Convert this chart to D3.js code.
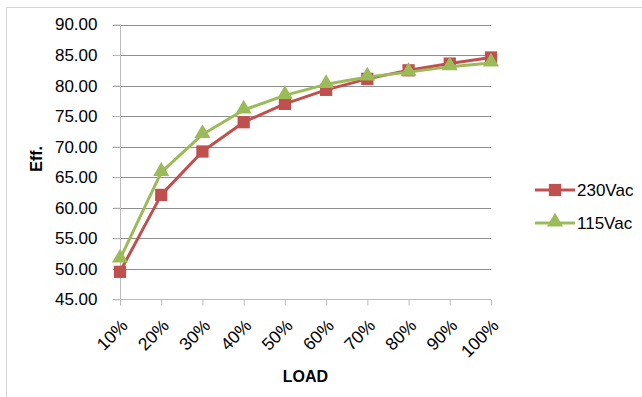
<!DOCTYPE html>
<html>
<head>
<meta charset="utf-8">
<script src="https://cdn.jsdelivr.net/npm/d3@7"></script>
<style>
  html, body { margin: 0; padding: 0; background: #fff; }
  svg { display: block; font-family: "Liberation Sans", Arial, sans-serif; }
</style>
</head>
<body>
<svg id="chart" width="642" height="397"></svg>
<script>
const categories = ["10%", "20%", "30%", "40%", "50%", "60%", "70%", "80%", "90%", "100%"];
const vac230 = [49.5, 62.1, 69.2, 74.0, 77.0, 79.3, 81.1, 82.5, 83.6, 84.6];
const vac115 = [51.6, 65.8, 72.0, 76.0, 78.4, 80.2, 81.4, 82.2, 83.1, 83.7];
const yTicks = [45, 50, 55, 60, 65, 70, 75, 80, 85, 90];
const seriesNames = ["230Vac", "115Vac"];
const seriesColors = ["#C0504D", "#9BBB59"];

const svg = d3.select("#chart");

// chart frame
svg.append("path")
  .attr("d", "M6.5,397 L6.5,7.5 L642,7.5")
  .attr("fill", "none").attr("stroke", "#d4d4d4").attr("stroke-width", 1);

const x = d3.scalePoint().domain(categories).range([120, 491]);
const y = d3.scaleLinear().domain([45, 90]).range([299.3, 24.5]);

// gridlines
svg.append("g").selectAll("line").data(yTicks.filter(d => d > 45)).join("line")
  .attr("x1", 113).attr("x2", 491)
  .attr("y1", d => Math.round(y(d)) + 0.5).attr("y2", d => Math.round(y(d)) + 0.5)
  .attr("stroke", "#8e8e8e").attr("stroke-width", 1);

// y axis
const yAxis = svg.append("g").attr("transform", "translate(120.5,0)")
  .call(d3.axisLeft(y).tickValues(yTicks).tickSize(7).tickPadding(16).tickFormat(d3.format(".2f")));
yAxis.select(".domain").attr("stroke", "#bcbcbc").attr("d", `M0,${y(90)}V${y(45)}`);
yAxis.selectAll(".tick line").attr("stroke", "#bcbcbc");
yAxis.selectAll(".tick text").attr("font-size", 17).attr("fill", "#000")
  .attr("font-family", "Liberation Sans, Arial, sans-serif");

// x axis
const xAxis = svg.append("g").attr("transform", `translate(0,${Math.round(y(45)) + 0.5})`)
  .call(d3.axisBottom(x).tickSize(6).tickFormat(""));
xAxis.select(".domain").attr("stroke", "#bcbcbc").attr("d", `M113,0H491`);
xAxis.selectAll(".tick line").attr("stroke", "#bcbcbc");
xAxis.selectAll(".tick").append("text")
  .text(d => d)
  .attr("text-anchor", "end")
  .attr("font-size", 17.5)
  .attr("fill", "#000")
  .attr("font-family", "Liberation Sans, Arial, sans-serif")
  .attr("transform", "translate(4,23) rotate(-45)")
  .attr("dy", "0.35em");

// axis titles
svg.append("text").text("LOAD")
  .attr("x", (x(categories[0]) + x(categories[categories.length - 1])) / 2)
  .attr("y", 382).attr("text-anchor", "middle")
  .attr("font-size", 16).attr("font-weight", "bold").attr("fill", "#000");
svg.append("text").text("Eff.")
  .attr("transform", `translate(42,${(y(45) + y(90)) / 2 - 3}) rotate(-90)`)
  .attr("text-anchor", "middle")
  .attr("font-size", 16).attr("font-weight", "bold").attr("fill", "#000");

// series
const series = [vac230, vac115];
const line = d3.line().x((d, i) => x(categories[i])).y(d => y(d));
const square = d3.symbol().type(d3.symbolSquare).size(150);
const tri = d3.symbol().type(d3.symbolTriangle).size(110);

series.forEach((vals, si) => {
  const g = svg.append("g");
  g.append("path").datum(vals).attr("d", line)
    .attr("fill", "none").attr("stroke", seriesColors[si]).attr("stroke-width", 3)
    .attr("stroke-linejoin", "round");
  g.selectAll("path.m").data(vals).join("path").attr("class", "m")
    .attr("d", si === 0 ? square : tri)
    .attr("transform", (d, i) => `translate(${x(categories[i])},${y(d) - (si === 1 ? 1 : 0)})`)
    .attr("fill", seriesColors[si]);
});

// legend
const legendY = [190, 223];
seriesNames.forEach((name, si) => {
  const g = svg.append("g").attr("transform", `translate(0,${legendY[si]})`);
  g.append("line").attr("x1", 535).attr("x2", 575).attr("y1", 0).attr("y2", 0)
    .attr("stroke", seriesColors[si]).attr("stroke-width", 3);
  g.append("path").attr("d", si === 0 ? square : tri)
    .attr("transform", `translate(555,${si === 1 ? -1 : 0})`).attr("fill", seriesColors[si]);
  g.append("text").text(name).attr("x", 577).attr("y", 0).attr("dy", "0.35em")
    .attr("font-size", 17).attr("fill", "#000");
});
</script>
</body>
</html>
